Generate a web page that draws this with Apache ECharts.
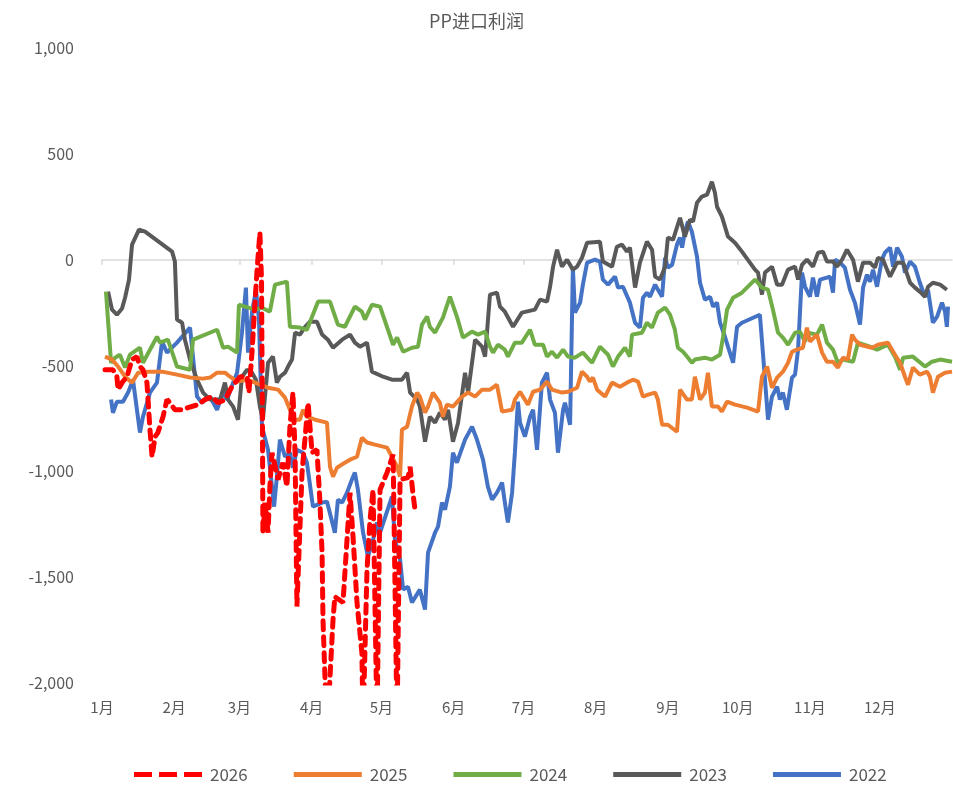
<!DOCTYPE html>
<html>
<head>
<meta charset="utf-8">
<script src="https://cdn.jsdelivr.net/npm/echarts@6/dist/echarts.min.js"></script>
<style>
  html, body { margin: 0; padding: 0; background: #fff; }
  #main { width: 953px; height: 785px; }
</style>
</head>
<body>
<div id="main"></div>
<script>
// x = day of year, y = import profit (yuan/t)
var monthStarts = [0, 31, 59, 90, 120, 151, 181, 212, 243, 273, 304, 334];
var monthNames = ['1月', '2月', '3月', '4月', '5月', '6月', '7月', '8月', '9月', '10月', '11月', '12月'];
var years = ['2026', '2025', '2024', '2023', '2022'];

var s2026 = [[1.3,-520],[4.7,-520],[6.4,-553],[6.9,-614],[8.6,-581],[10.7,-553],[12.9,-472],[15,-458],[16.3,-505],[17.6,-520],[19.3,-581],[20.6,-803],[21.5,-931],[22.8,-836],[24,-817],[26.2,-742],[27.9,-661],[29.2,-676],[31.3,-709],[34.4,-709],[36.9,-699],[41.2,-685],[44.2,-661],[47.2,-647],[49.8,-676],[52.8,-661],[55.8,-600],[59.3,-553],[62.3,-553],[63.1,-628],[64.4,-439],[65.7,-203],[66.6,-47],[67.8,128],[68.5,-94],[68.9,-789],[69.1,-1290],[70,-1148],[71.3,-1290],[72.1,-1072],[73,-912],[75.6,-1039],[77.7,-959],[79.4,-1072],[80.7,-789],[82,-628],[82.9,-912],[83.7,-1639],[85.9,-1006],[88.5,-676],[90.2,-912],[92.3,-898],[93.6,-1148],[94.5,-1384],[94.9,-1701],[96.6,-2250],[99.2,-1701],[100,-1592],[103.5,-1620],[106.5,-1101],[107.8,-1309],[109.5,-1620],[111.6,-1857],[112.1,-2200],[113.8,-1464],[115.1,-1228],[116.4,-1087],[118.1,-2200],[119.4,-1087],[122.4,-1006],[125,-921],[126.7,-2200],[128,-1039],[131.4,-1030],[132.3,-978],[133.5,-1101],[134.4,-1181]];

var s2025 = [[1.3,-458],[4.3,-472],[6.9,-505],[9.9,-553],[12.9,-581],[15.5,-534],[19.8,-529],[25.8,-529],[32.2,-543],[37.8,-557],[43.4,-562],[46.4,-557],[49.4,-534],[52.8,-534],[55,-553],[58,-576],[62.3,-567],[65.7,-581],[71.3,-605],[75.6,-614],[78.6,-652],[80.7,-709],[82.9,-756],[85,-756],[86.3,-709],[88,-742],[91.5,-756],[96.6,-770],[97.9,-978],[99.2,-1025],[100.9,-983],[104.3,-959],[106.5,-945],[109.5,-931],[111.6,-841],[113.8,-864],[117.2,-874],[122.4,-888],[124.5,-931],[126.7,-978],[128,-1025],[128.8,-803],[131,-789],[133.1,-694],[135.3,-628],[136.5,-647],[138.7,-723],[140,-694],[142.1,-628],[145.1,-676],[146.4,-742],[148.1,-685],[150.7,-694],[154.6,-647],[157.2,-628],[160.2,-647],[163.2,-614],[166.6,-614],[169.6,-591],[171.8,-718],[176.1,-709],[177.3,-661],[179.5,-624],[182.9,-685],[185.1,-624],[188.1,-614],[191.1,-576],[193.2,-614],[197.5,-628],[200.1,-624],[204,-605],[206.1,-529],[208.3,-553],[209.5,-576],[210.8,-557],[212.6,-614],[216,-647],[219,-581],[222.4,-600],[225.4,-581],[228,-567],[230.2,-576],[232.3,-647],[234.5,-638],[237.5,-628],[238.7,-661],[240.5,-780],[243,-780],[246.9,-813],[248.2,-614],[251.2,-661],[253.3,-661],[254.6,-553],[256.8,-661],[258.9,-628],[260.2,-534],[261.9,-694],[264.5,-694],[266.2,-718],[268.4,-671],[271.8,-685],[277,-699],[281.7,-718],[283.4,-553],[285.6,-505],[287.7,-605],[289.9,-557],[292.4,-529],[294.6,-487],[296.3,-435],[298.4,-425],[301,-416],[302.7,-321],[304,-387],[307,-354],[309.2,-439],[311.3,-482],[313.9,-482],[316,-510],[318.2,-463],[320.3,-472],[322.1,-354],[323.3,-378],[325.5,-402],[330.6,-416],[333.2,-402],[337.5,-392],[340.5,-449],[342.7,-487],[344.8,-553],[346.1,-591],[348.2,-510],[351.2,-543],[354.3,-529],[355.5,-553],[356.8,-628],[359,-553],[362,-534],[365,-529]];

var s2024 = [[1.7,-151],[3.9,-487],[5.6,-463],[7.7,-449],[9.9,-510],[12,-449],[16.3,-416],[17.6,-487],[23.6,-364],[24.9,-392],[28.3,-378],[32.2,-505],[37.8,-520],[39.1,-378],[49.4,-331],[52,-416],[54.1,-411],[58,-439],[58.8,-213],[61.4,-222],[65.7,-236],[68.7,-227],[72.1,-246],[74.3,-118],[79.4,-104],[80.7,-317],[85,-321],[88,-331],[92.8,-198],[97.9,-198],[101.3,-307],[104.3,-317],[108.6,-222],[111.6,-246],[112.9,-283],[115.9,-213],[119.4,-222],[125,-402],[126.7,-368],[129.3,-435],[133.1,-416],[135.7,-411],[137.4,-307],[139.6,-269],[140.8,-317],[143,-345],[146.4,-274],[149.4,-175],[152.4,-269],[155,-368],[158.9,-340],[161.5,-354],[164.5,-340],[166.6,-411],[167.9,-439],[170,-402],[173,-425],[174.3,-458],[177.3,-392],[180.3,-392],[183.8,-331],[185.9,-402],[189.4,-402],[191.1,-458],[193.2,-435],[195.4,-463],[198,-425],[200.1,-458],[203.1,-463],[206.5,-439],[210.4,-487],[213.8,-411],[217.3,-449],[219.4,-505],[221.6,-458],[224.6,-416],[226.7,-458],[227.6,-354],[231.9,-345],[234,-298],[236.2,-321],[238.7,-250],[241.8,-227],[243.9,-260],[246,-331],[247.3,-416],[249.5,-435],[251.2,-458],[253.3,-487],[254.6,-472],[258.9,-463],[261.9,-472],[265.4,-449],[266.7,-364],[268.4,-236],[271,-180],[274.8,-156],[280.4,-94],[283.4,-132],[286,-142],[288.1,-236],[290.3,-345],[292.4,-368],[294.6,-402],[297.6,-345],[299.7,-340],[301.9,-387],[303.2,-345],[307,-354],[309.2,-307],[311.3,-392],[313.9,-425],[316,-487],[318.2,-472],[322.5,-482],[324.6,-392],[329.8,-411],[332.8,-425],[337.5,-402],[340.5,-458],[342.7,-520],[344,-463],[348.2,-458],[353.4,-505],[356.4,-482],[359.9,-472],[365,-482]];

var s2023 = [[2.6,-151],[4.3,-236],[6.4,-260],[8.6,-231],[9.9,-180],[11.6,-94],[12.9,71],[15.9,142],[18.5,132],[30.1,38],[31.3,-9],[32.2,-283],[34.4,-298],[35.6,-378],[37.8,-472],[40.8,-567],[43.4,-628],[46.4,-661],[50.7,-661],[52.8,-581],[54.1,-661],[56.3,-694],[58.4,-756],[60.1,-553],[62.3,-520],[64.4,-534],[66.1,-567],[67.8,-694],[69.1,-756],[71.3,-487],[73.4,-458],[75.1,-581],[76.4,-553],[78.6,-534],[79.9,-505],[81.6,-472],[82.9,-345],[85,-354],[87.2,-317],[89.3,-293],[92.3,-293],[94.5,-354],[97,-378],[99.2,-416],[103.1,-378],[106.5,-354],[108.6,-392],[110.8,-411],[113.8,-392],[115.9,-529],[120.7,-553],[124.5,-567],[128.8,-567],[131,-534],[132.3,-628],[135.3,-661],[136.5,-694],[138.7,-860],[140.8,-742],[143,-770],[145.1,-723],[147.3,-756],[148.6,-709],[150.7,-860],[152.9,-770],[155.9,-534],[157.2,-628],[160.2,-378],[163.2,-411],[164.5,-458],[166.6,-165],[169.6,-156],[170.9,-222],[173,-246],[176.5,-317],[180.3,-250],[185.9,-236],[188.1,-189],[191.1,-198],[192.4,-128],[193.7,-33],[195.4,47],[197.5,-33],[199.7,0],[202.2,-47],[204,-33],[206.1,9],[208.3,80],[213.8,85],[215.1,-9],[219,-33],[221.1,61],[223.3,71],[225.4,38],[226.7,57],[228.9,-132],[231,-14],[234,85],[236.2,47],[237.5,-80],[239.6,-94],[241.8,-33],[243,104],[245.2,94],[248.2,198],[250.3,109],[252.5,189],[253.8,180],[255.5,269],[257.6,298],[259.8,307],[261.9,368],[263.2,316],[264.1,250],[266.2,203],[268.8,109],[271.8,80],[274.8,38],[280.4,-47],[281.7,-61],[283.4,-165],[284.7,-61],[287.7,-33],[289.9,-118],[292,-118],[294.6,-47],[297.6,-33],[298.9,-94],[300.6,-24],[302.7,0],[305.3,-33],[307.5,33],[309.6,38],[311.3,-9],[313.9,-9],[315.6,-33],[317.8,0],[319.9,47],[322.5,0],[324.6,-104],[326.8,-14],[329.8,-14],[331.9,-38],[333.2,9],[335.4,0],[337.1,-47],[338.4,-80],[341.4,-14],[344,-14],[347,-109],[349.1,-132],[351.2,-151],[353.4,-175],[354.7,-128],[356.8,-109],[359.9,-118],[362.8,-142]];

var s2022 = [[3.9,-661],[4.7,-723],[6.4,-671],[9,-671],[11.2,-628],[13.3,-567],[16.3,-817],[17.6,-742],[20.6,-628],[23.6,-581],[25.8,-387],[27.9,-439],[32.2,-392],[37.8,-321],[40.8,-647],[42.9,-676],[46.4,-647],[49.4,-709],[52,-628],[53.7,-661],[56.3,-581],[58,-534],[60.1,-345],[61.8,-132],[62.7,-439],[64.4,-250],[66.1,-142],[67.4,-283],[68.7,-789],[71.3,-898],[73.9,-1167],[75.1,-1025],[76.4,-850],[78.6,-931],[80.7,-912],[82,-983],[83.7,-898],[86.3,-912],[88,-959],[90.6,-1167],[94.5,-1148],[96.6,-1143],[100,-1290],[101.3,-1134],[103.1,-1148],[105.2,-1101],[107.3,-1039],[108.6,-1006],[109.9,-1087],[112.1,-1290],[114.2,-1403],[116.4,-1323],[118.1,-1242],[119.4,-1290],[124.5,-1120],[125.8,-1323],[128,-1417],[129.3,-1559],[131.4,-1545],[133.1,-1620],[136.5,-1559],[138.7,-1653],[140,-1384],[143,-1290],[144.3,-1261],[146,-1148],[147.3,-1181],[149.4,-1072],[150.7,-912],[152.4,-959],[155.9,-850],[158.9,-789],[161,-850],[163.6,-945],[165.7,-1072],[167.5,-1134],[169.6,-1101],[171.8,-1053],[173,-1148],[174.3,-1242],[176.1,-1101],[177.3,-912],[178.6,-671],[179.5,-770],[181.6,-836],[183.8,-742],[185.1,-709],[186.8,-898],[188.9,-581],[191.1,-534],[192.4,-661],[194.5,-723],[195.8,-912],[198,-709],[198.8,-676],[201,-780],[202.2,-38],[203.1,-250],[205.3,-203],[206.5,-118],[208.3,-14],[211.7,0],[213.8,-9],[215.1,-94],[217.3,-118],[220.3,-80],[221.6,-132],[223.7,-128],[226.7,-203],[228.9,-298],[231,-321],[232.3,-180],[234,-156],[235.3,-175],[237.5,-118],[240.5,-175],[241.8,9],[243,-38],[244.8,-24],[246.9,71],[248.2,104],[249.1,57],[250.3,132],[251.6,180],[253.3,132],[255.5,14],[256.8,-109],[258.9,-189],[261.1,-175],[262.4,-222],[264.1,-203],[265.4,-298],[267.5,-364],[268.8,-411],[271,-487],[272.7,-317],[274.8,-298],[282.5,-260],[283.8,-439],[286,-756],[287.7,-647],[289.9,-600],[291.1,-661],[292.4,-628],[294.1,-709],[296.3,-557],[297.6,-543],[298.9,-425],[300.6,-61],[301.9,-128],[304,-175],[305.3,-85],[307,-175],[308.3,-94],[311.3,-85],[312.6,-80],[313.9,-156],[314.8,0],[316.9,-14],[319,-38],[321.2,-142],[323.3,-203],[325.5,-307],[326.8,-132],[328.5,-71],[329.8,-104],[331.1,-47],[332.8,-128],[334.9,0],[336.2,33],[338.4,57],[339.7,-33],[341.4,57],[343.5,14],[344.8,-61],[347,-9],[349.1,-33],[351.2,-109],[353.4,-175],[354.7,-142],[356.8,-298],[358.6,-269],[360.7,-203],[362,-246],[362.8,-317],[363.3,-222]];

var dom = document.getElementById('main');
var myChart = echarts.init(dom, null, { renderer: 'canvas' });

var textColor = '#595959';
var font = '"Noto Sans CJK SC", "Noto Sans", sans-serif';
var solidIcon = 'path://M0,0h68v5h-68Z';
var dashIcon = 'path://M0,0h18v5h-18Z M25,0h18v5h-18Z M50,0h18v5h-18Z';

function line(name, data, color, extra) {
    var s = {
        name: name,
        type: 'line',
        data: data,
        symbol: 'none',
        smooth: false,
        xAxisIndex: 0,
        lineStyle: { color: color, width: 4 },
        itemStyle: { color: color },
        emphasis: { disabled: true }
    };
    return Object.assign(s, extra || {});
}

var option = {
    animation: false,
    backgroundColor: '#fff',
    title: {
        text: 'PP进口利润',
        left: 'center',
        top: 7,
        textStyle: { color: textColor, fontSize: 18, fontWeight: 'normal', fontFamily: font }
    },
    legend: {
        top: 761,
        left: 129,
        itemWidth: 68,
        itemHeight: 5,
        itemGap: 46,
        itemStyle: { borderWidth: 0 },
        textStyle: { color: textColor, fontSize: 17, fontFamily: font, padding: [0, 0, 0, 3] },
        data: years.map(function (y) {
            return { name: y, icon: y === '2026' ? dashIcon : solidIcon };
        })
    },
    grid: { left: 102, right: 1, top: 48, bottom: 102 },
    xAxis: [
        {
            type: 'value',
            min: 0,
            max: 365,
            position: 'bottom',
            axisLine: { show: false, onZero: false },
            axisTick: { show: false },
            splitLine: { show: false },
            axisLabel: {
                customValues: monthStarts,
                margin: 17,
                color: textColor,
                fontSize: 15,
                fontFamily: font,
                formatter: function (v) {
                    var i = monthStarts.indexOf(Math.round(v));
                    return i >= 0 ? monthNames[i] : '';
                }
            }
        },
        {
            type: 'value',
            min: 0,
            max: 365,
            position: 'bottom',
            axisLine: { show: true, onZero: true, lineStyle: { color: '#D9D9D9', width: 1.5 } },
            axisTick: { show: true, customValues: monthStarts, length: 5, lineStyle: { color: '#D9D9D9', width: 1.5 } },
            axisLabel: { show: false },
            splitLine: { show: false }
        }
    ],
    yAxis: {
        type: 'value',
        min: -2000,
        max: 1000,
        interval: 500,
        axisLine: { show: false },
        axisTick: { show: false },
        splitLine: { show: false },
        axisLabel: {
            margin: 28,
            color: textColor,
            fontSize: 16,
            fontFamily: font,
            formatter: function (v) { return v.toLocaleString('en-US'); }
        }
    },
    series: [
        line('2022', s2022, '#4472C4', { z: 2 }),
        line('2023', s2023, '#595959', { z: 3 }),
        line('2024', s2024, '#70AD47', { z: 4 }),
        line('2025', s2025, '#ED7D31', { z: 5 }),
        line('2026', s2026, '#FF0000', {
            z: 6,
            lineStyle: { color: '#FF0000', width: 5, type: [9, 7], cap: 'round' }
        })
    ]
};

if (option && typeof option === 'object') {
    myChart.setOption(option);
}

window.addEventListener('resize', myChart.resize);
</script>
</body>
</html>
